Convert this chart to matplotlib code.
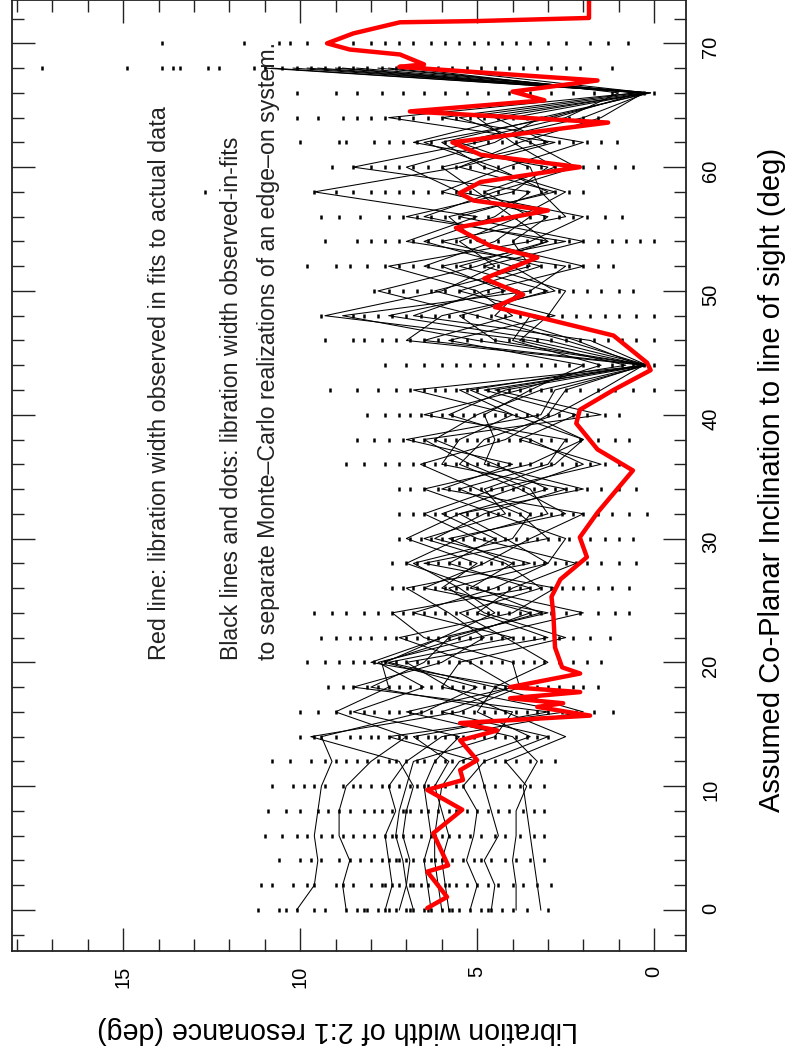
import matplotlib
matplotlib.use('Agg')
import matplotlib.pyplot as plt
from matplotlib.ticker import MultipleLocator

plt.rcParams['font.family'] = ['Liberation Sans', 'DejaVu Sans']

# ---------------------------------------------------------------
# dados (largura de libração x inclinação)
# ---------------------------------------------------------------

# linha vermelha: ajuste aos dados reais
red_incl = [0.15, 1.05, 3.1, 3.6, 6.2, 8.1, 9.7, 10.5, 11.3, 12.1, 13.7, 14.5, 15.1,
            15.7, 16.4, 16.7, 17.1, 17.6, 18.0, 19.1, 19.6, 21.2, 24.0, 25.3, 26.7,
            28.5, 30.1, 32.1, 35.5, 37.2, 39.3, 40.4, 42.0, 43.6, 44.2, 46.4, 47.7,
            48.7, 49.7, 51.0, 52.7, 53.6, 55.1, 56.5, 57.3, 57.9, 58.8, 60.0, 61.0,
            62.0, 63.6, 64.5, 65.4, 66.1, 67.0, 68.1, 68.3, 69.1, 69.5, 70.0, 70.8,
            71.7, 71.8, 72.05, 76.0]
red_width = [6.41, 5.85, 6.41, 5.82, 6.24, 5.42, 6.41, 5.4, 5.48, 5.0, 5.48, 4.43, 5.48,
             1.81, 3.3, 2.57, 4.07, 2.09, 4.07, 2.09, 2.6, 2.8, 2.85, 2.9, 2.65,
             1.9, 2.1, 1.6, 0.6, 1.6, 2.2, 2.1, 1.15, 0.1, 0.2, 1.15, 3.0,
             4.5, 3.7, 4.8, 3.3, 4.6, 5.6, 3.0, 5.1, 5.5, 4.9, 2.1, 4.9,
             5.7, 1.3, 6.9, 3.1, 4.0, 1.6, 7.2, 6.5, 7.18, 8.6, 9.24, 8.5,
             7.18, 5.0, 1.84, 1.84]

# inclinações das linhas pretas (0 a 68 graus, de 2 em 2)
line_incl = [0, 2, 4, 6, 8, 10, 12, 14, 16, 18, 20, 22, 24, 26, 28, 30, 32, 34,
             36, 38, 40, 42, 44, 46, 48, 50, 52, 54, 56, 58, 60, 62, 64, 66, 68]

mc_line_01 = [10.1, 9.6, 9.5, 9.6, 9.5, 9.4, 9.1, 9.4, 6.5, 5.0, 7.6, 6.0, 4.5, 5.5, 6.8, 4.0, 3.5, 5.0,
              6.6, 4.2, 3.0, 2.5, 0.3, 3.5, 9.3, 6.0, 4.5, 5.5, 3.8, 2.5, 4.8, 6.0, 3.0, 0.2, 10.8]
mc_line_02 = [8.7, 8.8, 8.6, 8.9, 8.9, 8.7, 8.0, 7.0, 9.0, 7.5, 7.7, 5.5, 3.5, 6.0, 5.0, 7.0, 5.5, 3.0,
              4.5, 6.2, 5.0, 3.2, 0.2, 2.5, 5.0, 7.8, 5.0, 3.0, 6.5, 4.5, 2.2, 3.5, 5.5, 0.3, 9.8]
mc_line_03 = [7.6, 7.4, 7.5, 7.6, 7.3, 7.5, 7.0, 6.0, 2.0, 4.5, 7.5, 4.0, 6.8, 4.5, 3.0, 2.5, 4.5, 6.5,
              3.5, 2.0, 4.0, 5.5, 0.2, 5.0, 8.8, 3.5, 2.5, 7.0, 5.0, 9.6, 5.5, 2.8, 7.5, 0.5, 9.0]
mc_line_04 = [6.8, 7.0, 6.9, 7.1, 7.0, 6.8, 7.2, 9.7, 5.5, 3.8, 4.0, 6.5, 7.4, 3.5, 5.8, 4.5, 6.0, 4.0,
              2.0, 3.5, 5.8, 4.2, 0.2, 6.5, 4.0, 5.0, 7.5, 3.5, 2.0, 5.5, 7.0, 4.5, 3.2, 0.1, 8.4]
mc_line_05 = [6.3, 6.4, 6.5, 6.3, 6.4, 6.5, 6.2, 5.5, 8.5, 6.5, 7.8, 5.0, 2.0, 5.2, 4.0, 5.8, 2.5, 3.8,
              5.5, 4.8, 2.8, 1.5, 0.3, 7.0, 6.0, 2.8, 4.0, 6.5, 4.5, 3.5, 8.5, 5.0, 2.0, 0.2, 11.0]
mc_line_06 = [5.8, 5.9, 6.0, 5.8, 6.0, 6.2, 5.8, 6.8, 3.0, 8.5, 6.0, 4.8, 5.8, 7.0, 3.5, 6.2, 4.8, 2.5,
              6.0, 5.5, 4.0, 6.8, 0.2, 3.0, 7.5, 4.2, 6.0, 2.5, 7.0, 4.0, 3.0, 6.8, 4.0, 0.2, 10.2]
mc_line_07 = [5.2, 5.0, 5.3, 5.1, 5.0, 5.4, 4.8, 3.0, 6.0, 4.0, 5.2, 7.2, 4.0, 2.8, 6.5, 3.0, 3.8, 5.5,
              3.0, 2.5, 6.5, 3.8, 1.5, 4.0, 3.5, 6.2, 3.5, 4.0, 3.0, 6.0, 4.2, 2.0, 6.0, 0.5, 7.5]
mc_line_08 = [3.9, 3.9, 4.0, 3.9, 3.9, 3.6, 4.2, 2.5, 4.2, 5.8, 7.0, 3.0, 5.0, 4.0, 2.2, 5.0, 6.5, 4.5,
              1.5, 3.8, 2.2, 4.8, 0.2, 1.8, 6.8, 4.8, 2.0, 5.0, 5.8, 2.8, 5.5, 3.8, 1.5, 0.3, 8.8]
mc_line_09 = [3.2, 3.3, 3.4, 3.5, 3.6, 3.7, 3.3, 4.0, 7.0, 4.0, 8.0, 6.0, 3.0, 6.5, 4.8, 3.5, 2.0, 6.0,
              4.0, 7.0, 3.2, 2.8, 0.2, 4.5, 5.5, 3.0, 5.5, 3.0, 4.0, 5.0, 6.0, 3.0, 4.5, 0.2, 6.5]
mc_line_10 = [4.6, 4.5, 4.8, 4.4, 4.6, 4.8, 5.0, 7.5, 2.5, 6.0, 5.5, 2.5, 4.8, 5.8, 3.0, 4.2, 5.5, 2.0,
              4.8, 4.5, 4.8, 3.5, 2.0, 5.8, 2.8, 5.5, 3.2, 6.0, 2.5, 3.2, 3.5, 5.5, 2.5, 1.0, 7.0]
mc_line_11 = [7.2, 7.0, 7.1, 7.3, 7.2, 7.0, 6.8, 4.5, 4.0, 8.0, 6.5, 5.8, 3.2, 5.0, 7.0, 5.5, 3.0, 3.5,
              5.2, 6.5, 1.5, 4.5, 0.4, 2.2, 4.5, 3.8, 6.5, 4.5, 3.5, 4.8, 2.8, 4.0, 5.0, 0.1, 9.5]
mc_line_12 = [6.0, 6.1, 6.2, 6.2, 6.1, 6.0, 5.5, 3.5, 5.0, 4.5, 3.0, 4.2, 5.5, 3.2, 4.2, 6.5, 4.2, 4.8,
              2.8, 2.0, 3.5, 5.2, 0.8, 3.8, 3.0, 2.5, 4.8, 2.0, 5.5, 3.0, 4.5, 6.5, 2.8, 0.4, 7.8]

# pontos: realizações Monte-Carlo em cada inclinação
dots_i00 = [11.2, 10.6, 10.4, 10.1, 9.6, 9.3, 8.7, 8.4, 8.2, 8.1, 7.8, 7.6, 7.5, 7.3, 7.0, 6.9, 6.8, 6.5,
            6.4, 6.3, 6.0, 5.8, 5.7, 5.5, 5.2, 4.9, 4.7, 4.6, 4.3, 4.0, 3.6, 3.0]
dots_i02 = [11.1, 10.8, 10.2, 9.8, 9.6, 9.0, 8.8, 8.5, 8.0, 7.7, 7.6, 7.4, 7.2, 6.9, 6.8, 6.6, 6.4, 6.1,
            5.9, 5.8, 5.6, 5.3, 5.0, 4.7, 4.4, 4.0, 3.7, 3.3, 2.9]
dots_i04 = [10.6, 10.0, 9.7, 9.4, 8.9, 8.6, 8.3, 8.0, 7.7, 7.5, 7.3, 7.2, 7.0, 6.8, 6.5, 6.3, 6.2, 6.0,
            5.7, 5.4, 5.1, 4.9, 4.6, 4.2, 3.9, 3.5, 3.1]
dots_i06 = [11.0, 10.5, 10.1, 9.8, 9.4, 9.1, 8.8, 8.5, 8.2, 7.9, 7.6, 7.4, 7.3, 7.1, 6.8, 6.6, 6.3, 6.2,
            6.0, 5.8, 5.5, 5.2, 4.9, 4.5, 4.2, 3.8, 3.4, 3.1]
dots_i08 = [10.9, 10.4, 10.0, 9.5, 9.2, 8.9, 8.6, 8.2, 7.9, 7.7, 7.4, 7.1, 7.0, 6.9, 6.6, 6.4, 6.1, 5.8,
            5.6, 5.3, 5.0, 4.7, 4.4, 4.1, 3.7, 3.4, 3.1]
dots_i10 = [10.8, 10.2, 9.9, 9.6, 9.3, 8.8, 8.5, 8.3, 8.0, 7.7, 7.5, 7.2, 6.9, 6.7, 6.5, 6.4, 6.2, 5.9,
            5.6, 5.4, 5.1, 4.8, 4.5, 4.1, 3.8, 3.5, 3.1]
dots_i12 = [10.8, 10.3, 9.7, 9.3, 9.0, 8.7, 8.4, 8.1, 7.8, 7.5, 7.3, 7.0, 6.7, 6.5, 6.2, 5.9, 5.7, 5.4,
            5.1, 4.8, 4.5, 4.2, 3.9, 3.5, 3.2, 2.8]
dots_i14 = [10.0, 9.6, 9.4, 9.0, 8.6, 8.3, 8.0, 7.8, 7.5, 7.2, 7.0, 6.7, 6.4, 6.2, 5.9, 5.6, 5.4, 5.1,
            4.8, 4.5, 4.2, 3.9, 3.6, 3.3, 3.0]
dots_i16 = [10.0, 9.5, 9.0, 8.6, 8.2, 7.9, 7.5, 7.2, 6.9, 6.6, 6.3, 6.0, 5.7, 5.4, 5.1, 4.8, 4.5, 4.2,
            3.9, 3.6, 3.3, 3.0, 2.6, 2.2, 1.7, 1.15]
dots_i18 = [9.2, 8.8, 8.5, 8.1, 7.8, 7.5, 7.2, 6.9, 6.6, 6.3, 6.0, 5.7, 5.4, 5.1, 4.8, 4.5, 4.2, 3.9,
            3.6, 3.3, 3.0, 2.7, 2.3, 2.0, 1.6]
dots_i20 = [9.8, 9.3, 8.9, 8.5, 8.2, 7.9, 7.6, 7.3, 7.0, 6.7, 6.4, 6.1, 5.8, 5.5, 5.2, 4.9, 4.6, 4.3,
            4.0, 3.7, 3.4, 3.1, 2.7, 2.3, 1.9, 1.5]
dots_i22 = [9.4, 9.0, 8.6, 8.3, 8.0, 7.6, 7.3, 7.0, 6.7, 6.4, 6.1, 5.8, 5.5, 5.2, 4.9, 4.6, 4.3, 4.0,
            3.7, 3.4, 3.1, 2.7, 2.3, 1.8, 1.25]
dots_i24 = [9.6, 9.1, 8.7, 8.2, 7.8, 7.4, 7.1, 6.8, 6.5, 6.2, 5.9, 5.6, 5.3, 5.0, 4.7, 4.4, 4.1, 3.8,
            3.5, 3.2, 2.9, 2.5, 2.1, 1.6, 1.1, 0.7]
dots_i26 = [7.4, 7.1, 6.8, 6.5, 6.2, 5.9, 5.6, 5.3, 5.0, 4.7, 4.4, 4.1, 3.8, 3.5, 3.2, 2.9, 2.6, 2.3,
            2.0, 1.6, 1.2, 0.7]
dots_i28 = [7.4, 7.0, 6.7, 6.4, 6.1, 5.8, 5.5, 5.2, 4.9, 4.6, 4.3, 4.0, 3.7, 3.4, 3.1, 2.8, 2.5, 2.2,
            1.9, 1.5, 1.0, 0.5]
dots_i30 = [7.2, 6.9, 6.6, 6.3, 6.0, 5.7, 5.4, 5.1, 4.8, 4.5, 4.2, 3.9, 3.6, 3.3, 3.0, 2.7, 2.4, 2.1,
            1.8, 1.4, 1.0, 0.6]
dots_i32 = [7.2, 6.8, 6.5, 6.2, 5.9, 5.6, 5.3, 5.0, 4.7, 4.4, 4.1, 3.8, 3.5, 3.2, 2.9, 2.6, 2.3, 2.0,
            1.6, 1.2, 0.7, 0.2]
dots_i34 = [7.2, 6.9, 6.5, 6.1, 5.8, 5.5, 5.2, 4.9, 4.6, 4.3, 4.0, 3.7, 3.4, 3.1, 2.8, 2.5, 2.2, 1.9,
            1.5, 1.0, 0.5]
dots_i36 = [8.7, 8.2, 7.6, 7.2, 6.8, 6.5, 6.2, 5.9, 5.6, 5.3, 5.0, 4.7, 4.4, 4.1, 3.8, 3.5, 3.2, 2.9,
            2.6, 2.2, 1.8, 1.4, 1.0]
dots_i38 = [8.4, 7.9, 7.5, 7.1, 6.8, 6.5, 6.2, 5.9, 5.6, 5.3, 5.0, 4.7, 4.4, 4.1, 3.8, 3.5, 3.2, 2.9,
            2.5, 2.1, 1.6, 1.1, 0.7]
dots_i40 = [8.1, 7.6, 7.2, 6.9, 6.6, 6.3, 6.0, 5.7, 5.4, 5.1, 4.8, 4.5, 4.2, 3.9, 3.6, 3.3, 3.0, 2.7,
            2.3, 1.9, 1.4, 1.0]
dots_i42 = [9.15, 8.4, 7.8, 7.3, 6.9, 6.5, 6.2, 5.9, 5.6, 5.3, 5.0, 4.7, 4.4, 4.1, 3.8, 3.5, 3.2, 2.9,
            2.5, 2.1, 1.6, 1.1, 0.6, 0.0]
dots_i44 = [7.6, 7.0, 6.5, 6.0, 5.6, 5.2, 4.8, 4.4, 4.0, 3.6, 3.2, 2.8, 2.4, 2.0, 1.6, 1.2, 0.9, 0.6,
            0.3, 0.0]
dots_i46 = [9.3, 8.5, 8.2, 7.7, 7.3, 6.9, 6.5, 6.1, 5.7, 5.3, 4.9, 4.5, 4.1, 3.7, 3.3, 2.9, 2.5, 2.1,
            1.7, 1.3, 0.9, 0.5, 0.0]
dots_i48 = [9.4, 8.5, 8.2, 7.8, 7.4, 7.0, 6.6, 6.2, 5.8, 5.4, 5.0, 4.6, 4.2, 3.8, 3.4, 3.0, 2.6, 2.2,
            1.8, 1.4, 1.0, 0.5, 0.0]
dots_i50 = [7.9, 7.5, 7.1, 6.7, 6.3, 5.9, 5.5, 5.1, 4.7, 4.3, 3.9, 3.5, 3.1, 2.7, 2.3, 1.9, 1.5, 1.0,
            0.6]
dots_i52 = [9.8, 9.0, 8.6, 8.1, 7.6, 7.2, 6.8, 6.4, 6.0, 5.6, 5.2, 4.8, 4.4, 4.0, 3.6, 3.2, 2.8, 2.4,
            2.0, 1.6, 1.15]
dots_i54 = [9.3, 8.4, 8.0, 7.6, 7.2, 6.8, 6.4, 6.0, 5.6, 5.2, 4.8, 4.4, 4.0, 3.6, 3.2, 2.8, 2.4, 2.0,
            1.6, 1.2, 0.8, 0.4, 0.0]
dots_i56 = [9.4, 8.9, 8.3, 7.5, 7.1, 6.7, 6.3, 5.9, 5.5, 5.1, 4.7, 4.3, 3.9, 3.5, 3.1, 2.7, 2.3, 1.9,
            1.4, 0.9]
dots_i58 = [12.7, 9.6, 9.0, 8.5, 8.0, 7.6, 7.2, 6.8, 6.4, 6.0, 5.6, 5.2, 4.8, 4.4, 4.0, 3.6, 3.2, 2.8,
            2.4, 2.0]
dots_i60 = [9.1, 8.5, 8.0, 7.6, 7.2, 6.8, 6.4, 6.0, 5.6, 5.2, 4.8, 4.4, 4.0, 3.6, 3.2, 2.8, 2.4, 2.0,
            1.6, 1.1, 0.6]
dots_i62 = [10.0, 8.9, 8.7, 7.9, 7.5, 7.1, 6.7, 6.3, 5.9, 5.5, 5.1, 4.7, 4.3, 3.9, 3.5, 3.1, 2.7, 2.3,
            1.9, 1.5, 1.05]
dots_i64 = [10.1, 9.5, 8.8, 8.4, 8.0, 7.6, 7.2, 6.8, 6.4, 6.0, 5.6, 5.2, 4.8, 4.4, 4.0, 3.6, 3.2, 2.8,
            2.4, 2.0, 1.6]
dots_i66 = [10.1, 9.0, 8.4, 7.7, 7.1, 6.5, 5.9, 5.3, 4.7, 4.1, 3.5, 2.9, 2.3, 1.7, 1.2, 0.7, 0.3, 0.0]
dots_i68 = [17.3, 14.9, 13.9, 13.6, 13.4, 12.6, 12.3, 11.3, 11.0, 10.5, 10.1, 9.7, 9.3, 8.9, 8.5, 8.1,
            7.7, 7.3, 6.9, 6.5, 6.1, 5.7, 5.3, 4.9, 4.5, 4.1, 3.7, 3.3, 2.9, 2.5, 2.1, 1.2]
dots_i70 = [13.9, 11.6, 10.6, 10.3, 9.8, 9.1, 8.5, 8.0, 7.6, 7.2, 6.8, 6.3, 5.9, 5.5, 5.1, 4.7, 4.3,
            3.9, 3.5, 3.0, 2.5, 1.8, 1.3, 0.75]

dot_incl = [0, 2, 4, 6, 8, 10, 12, 14, 16, 18, 20, 22, 24, 26, 28, 30, 32, 34,
            36, 38, 40, 42, 44, 46, 48, 50, 52, 54, 56, 58, 60, 62, 64, 66, 68, 70]
dot_rows = [dots_i00, dots_i02, dots_i04, dots_i06, dots_i08, dots_i10, dots_i12, dots_i14,
            dots_i16, dots_i18, dots_i20, dots_i22, dots_i24, dots_i26, dots_i28, dots_i30,
            dots_i32, dots_i34, dots_i36, dots_i38, dots_i40, dots_i42, dots_i44, dots_i46,
            dots_i48, dots_i50, dots_i52, dots_i54, dots_i56, dots_i58, dots_i60, dots_i62,
            dots_i64, dots_i66, dots_i68, dots_i70]
mc_lines = [mc_line_01, mc_line_02, mc_line_03, mc_line_04, mc_line_05, mc_line_06,
            mc_line_07, mc_line_08, mc_line_09, mc_line_10, mc_line_11, mc_line_12]

# ---------------------------------------------------------------
# figura (gráfico original girado 90 graus)
# ---------------------------------------------------------------
fig = plt.figure(figsize=(7.95, 10.53), dpi=100)
ax = fig.add_axes([0.0151, 0.0969, 0.8478, 0.9031])

# pontos
for inc, row in zip(dot_incl, dot_rows):
    ax.plot(row, [inc] * len(row), linestyle='none', marker='|',
            color='black', markersize=3.2, markeredgewidth=1.8)

# linhas pretas
for vals in mc_lines:
    ax.plot(vals, line_incl, color='black', linewidth=0.75)

# linha vermelha
ax.plot(red_width, red_incl, color='#ff0000', linewidth=3.2,
        solid_joinstyle='round', solid_capstyle='round')

ax.set_xlim(18.14, -0.90)
ax.set_ylim(-3.31, 73.5)

ax.xaxis.set_major_locator(MultipleLocator(5))
ax.xaxis.set_minor_locator(MultipleLocator(1))
ax.yaxis.set_major_locator(MultipleLocator(10))
ax.yaxis.set_minor_locator(MultipleLocator(2))

ax.tick_params(which='both', direction='in', top=True, bottom=True, left=True, right=True,
               labelbottom=True, labeltop=False, labelleft=False, labelright=True,
               color='#222222', width=1.0)
ax.tick_params(which='major', length=16.5, pad=11, labelsize=14.5)
ax.tick_params(which='minor', length=8.6)
ax.tick_params(axis='both', labelrotation=90)

for s in ax.spines.values():
    s.set_color('#222222')
    s.set_linewidth(1.3)

ax.set_xlabel('Libration width of 2:1 resonance (deg)', fontsize=20.6, rotation=180,
              va='center', ha='center')
ax.xaxis.set_label_coords(0.4837, -0.0831)
ax.yaxis.set_label_position('right')
ax.set_ylabel('Assumed Co-Planar Inclination to line of sight (deg)', fontsize=21,
              rotation=90, va='center', ha='center')
ax.yaxis.set_label_coords(1.1276, 0.4955)

# textos explicativos
ax.text(13.98, 20.2, 'Red line: libration width observed in fits to actual data',
        rotation=90, rotation_mode='anchor', ha='left', va='center', fontsize=16.8,
        color='#222222')
ax.text(11.95, 20.2, 'Black lines and dots: libration width observed-in-fits',
        rotation=90, rotation_mode='anchor', ha='left', va='center', fontsize=16.7,
        color='#222222')
ax.text(10.90, 20.2, 'to separate Monte\u2013Carlo realizations of an edge\u2013on system.',
        rotation=90, rotation_mode='anchor', ha='left', va='center', fontsize=16.7,
        color='#222222')

fig.savefig('out.png', dpi=100)
